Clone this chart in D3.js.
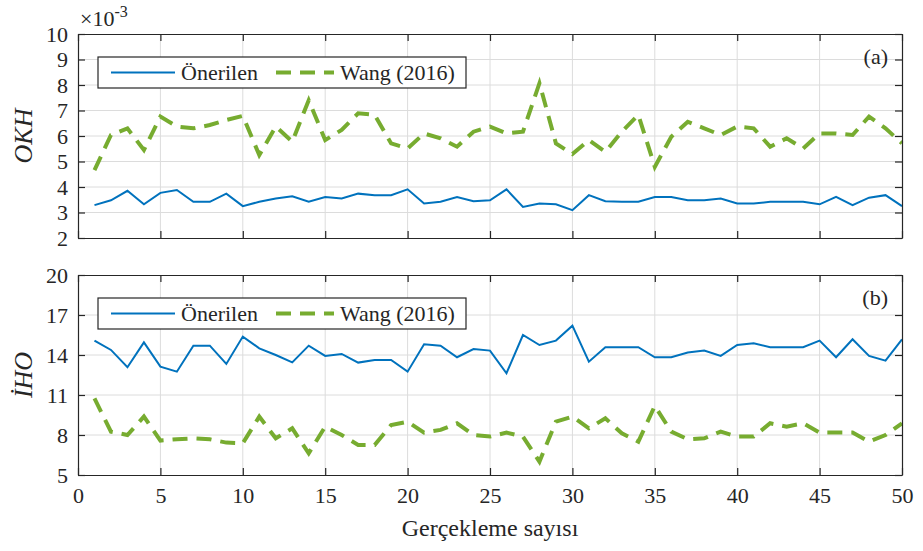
<!DOCTYPE html>
<html>
<meta charset="utf-8">
<style>
  svg text { font-family: "Liberation Serif", "Times New Roman", serif; }
</style>
<body style="margin:0;background:#fff">
<script src="https://d3js.org/d3.v7.min.js"></script>
<script>

// realizations 1..50
var runs = d3.range(1, 51);

// (a) OKH values, x10^-3
var okhOnerilen = [3.29,3.48,3.85,3.32,3.77,3.88,3.42,3.42,3.74,3.25,
  3.42,3.55,3.64,3.42,3.61,3.55,3.74,3.68,3.68,3.91,
  3.35,3.42,3.61,3.44,3.48,3.91,3.22,3.35,3.32,3.09,
  3.68,3.44,3.42,3.42,3.61,3.61,3.48,3.48,3.55,3.35,
  3.35,3.42,3.42,3.42,3.32,3.61,3.29,3.58,3.68,3.25];
var okhWang = [4.66,6.04,6.30,5.45,6.76,6.37,6.30,6.43,6.63,6.79,
  5.25,6.37,5.78,7.40,5.84,6.24,6.89,6.83,5.71,5.51,
  6.10,5.91,5.58,6.17,6.37,6.10,6.17,8.07,5.71,5.29,
  5.84,5.38,6.17,6.83,4.79,5.97,6.56,6.30,6.04,6.37,
  6.30,5.58,5.91,5.51,6.10,6.10,6.04,6.76,6.30,5.71];

// (b) IHO values
var ihoOnerilen = [15.08,14.38,13.08,14.95,13.13,12.75,14.7,14.7,13.33,15.38,
  14.5,14.0,13.45,14.7,13.93,14.08,13.43,13.63,13.63,12.75,
  14.8,14.7,13.83,14.45,14.33,12.63,15.5,14.75,15.08,16.2,
  13.5,14.58,14.58,14.58,13.83,13.83,14.18,14.33,13.93,14.75,
  14.88,14.58,14.58,14.58,15.08,13.83,15.18,13.93,13.58,15.18];
var ihoWang = [10.75,8.25,8.0,9.38,7.58,7.68,7.75,7.68,7.43,7.38,
  9.38,7.75,8.5,6.63,8.63,8.0,7.25,7.25,8.75,9.0,
  8.18,8.38,8.88,8.0,7.88,8.18,7.88,6.0,9.0,9.38,
  8.5,9.25,8.13,7.5,10.18,8.25,7.68,7.75,8.25,7.88,
  7.88,8.88,8.63,8.88,8.18,8.18,8.18,7.5,8.0,8.88];

var xTicks = [0,5,10,15,20,25,30,35,40,45,50];
var okhTicks = [2,3,4,5,6,7,8,9,10];
var ihoTicks = [5,8,11,14,17,20];
var seriesNames = ["Önerilen", "Wang (2016)"];

var width = 923, height = 551;
var blue = "#0072BD", green = "#77AC30", axisCol = "#262626";

var svg = d3.select("body").append("svg")
  .attr("width", width).attr("height", height);

var x = d3.scaleLinear().domain([0, 50]).range([78, 902]);

function panel(top, bottom, domain, ticks, s1, s2, yTitle, tag, showX) {
  var y = d3.scaleLinear().domain(domain).range([bottom, top]);
  var g = svg.append("g");

  // grid
  g.selectAll(".gx").data(xTicks.slice(1, -1)).enter().append("line")
    .attr("x1", d => x(d)).attr("x2", d => x(d))
    .attr("y1", top).attr("y2", bottom)
    .attr("stroke", "#dcdcdc").attr("stroke-width", 1);
  g.selectAll(".gy").data(ticks.slice(1, -1)).enter().append("line")
    .attr("x1", x.range()[0]).attr("x2", x.range()[1])
    .attr("y1", d => y(d)).attr("y2", d => y(d))
    .attr("stroke", "#dcdcdc").attr("stroke-width", 1);

  var line = d3.line().x((d, i) => x(runs[i])).y(d => y(d));

  g.append("path").datum(s2).attr("d", line)
    .attr("fill", "none").attr("stroke", green).attr("stroke-width", 4)
    .attr("stroke-dasharray", "15,9");
  g.append("path").datum(s1).attr("d", line)
    .attr("fill", "none").attr("stroke", blue).attr("stroke-width", 2);

  // axes, ticks inward on all sides
  var ax = g.append("g");
  var bot = d3.axisBottom(x).tickValues(xTicks).tickSizeInner(-7).tickSizeOuter(0).tickPadding(12);
  if (!showX) bot.tickFormat("");
  ax.append("g").attr("transform", "translate(0," + bottom + ")").call(bot);
  ax.append("g").attr("transform", "translate(0," + top + ")")
    .call(d3.axisTop(x).tickValues(xTicks).tickSizeInner(-7).tickSizeOuter(0).tickFormat(""));
  ax.append("g").attr("transform", "translate(" + x.range()[0] + ",0)")
    .call(d3.axisLeft(y).tickValues(ticks).tickSizeInner(-7).tickSizeOuter(0).tickPadding(10));
  ax.append("g").attr("transform", "translate(" + x.range()[1] + ",0)")
    .call(d3.axisRight(y).tickValues(ticks).tickSizeInner(-7).tickSizeOuter(0).tickFormat(""));
  ax.selectAll("path, line").attr("stroke", axisCol).attr("stroke-width", 1.2);
  ax.selectAll("text").attr("fill", axisCol).style("font-size", "22px");

  // legend
  var lg = g.append("g").attr("transform", "translate(98," + (top + 23) + ")");
  lg.append("rect").attr("width", 368).attr("height", 31)
    .attr("fill", "#fff").attr("stroke", axisCol).attr("stroke-width", 1.2);
  lg.append("line").attr("x1", 13).attr("x2", 77).attr("y1", 15.5).attr("y2", 15.5)
    .attr("stroke", blue).attr("stroke-width", 2);
  lg.append("text").attr("x", 83).attr("y", 23).style("font-size", "22px")
    .attr("fill", axisCol).text(seriesNames[0]);
  lg.append("line").attr("x1", 178).attr("x2", 236).attr("y1", 15.5).attr("y2", 15.5)
    .attr("stroke", green).attr("stroke-width", 4).attr("stroke-dasharray", "15,9");
  lg.append("text").attr("x", 242).attr("y", 23).style("font-size", "22px")
    .attr("fill", axisCol).text(seriesNames[1]);

  // panel tag
  g.append("text").attr("x", 888).attr("y", top + 30).attr("text-anchor", "end")
    .style("font-size", "22px").attr("fill", axisCol).text(tag);

  // y title
  g.append("text").attr("transform", "translate(32," + ((top + bottom) / 2) + ") rotate(-90)")
    .attr("text-anchor", "middle").style("font-size", "26px").style("font-style", "italic")
    .attr("fill", axisCol).text(yTitle);
  return y;
}

panel(34, 238, [2, 10], okhTicks, okhOnerilen, okhWang, "OKH", "(a)", false);
panel(275, 475, [5, 20], ihoTicks, ihoOnerilen, ihoWang, "İHO", "(b)", true);

// exponent label
var ex = svg.append("text").attr("x", 80).attr("y", 26).style("font-size", "22px").attr("fill", axisCol);
ex.append("tspan").text("×10");
ex.append("tspan").attr("dy", -9).style("font-size", "16px").text("-3");

// x title
svg.append("text").attr("x", x(25)).attr("y", 536).attr("text-anchor", "middle")
  .style("font-size", "24px").attr("fill", axisCol).text("Gerçekleme sayısı");

</script>
</body>
</html>
